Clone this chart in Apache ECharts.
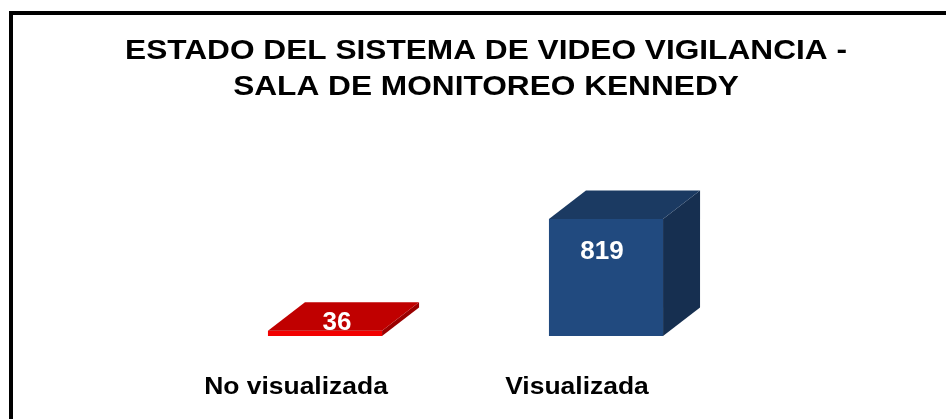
<!DOCTYPE html>
<html><head><meta charset="utf-8">
<script src="https://cdn.jsdelivr.net/npm/echarts@6/dist/echarts.min.js"></script>
<style>html,body{margin:0;padding:0;background:#fff}#c{width:946px;height:419px}</style>
</head><body><div id="c"></div>
<script>
var titleLines = ['ESTADO DEL SISTEMA DE VIDEO VIGILANCIA -', 'SALA DE MONITOREO KENNEDY'];
var categories = ['No visualizada', 'Visualizada'];
var values = [36, 819];
var frontColors = ['#f20000', '#214a7f'];
var topColors = ['#c00000', '#1b3a62'];
var sideColors = ['#9a0000', '#162f50'];

var chart = echarts.init(document.getElementById('c'));
var DX = 37, DY = 28.5;
function renderItem(params, api) {
  var i = api.value(0), v = api.value(1);
  var base = api.coord([i, 0]);
  var top = api.coord([i, v]);
  var w = api.size([1, 0])[0] * 0.406;
  var x0 = base[0] - w / 2, x1 = base[0] + w / 2, yb = base[1], yt = top[1];
  var children = [
    {type: 'polygon', shape: {points: [[x0, yb], [x1, yb], [x1, yt], [x0, yt]]}, style: {fill: frontColors[i]}},
    {type: 'polygon', shape: {points: [[x1, yb], [x1 + DX, yb - DY], [x1 + DX, yt - DY], [x1, yt]]}, style: {fill: sideColors[i]}},
    {type: 'polygon', shape: {points: [[x0, yt], [x1, yt], [x1 + DX, yt - DY], [x0 + DX, yt - DY]]}, style: {fill: topColors[i]}}
  ];
  var lx, ly;
  if (yb - yt > 40) { lx = base[0] - 4; ly = yt + 33; }
  else { lx = base[0] + 12; ly = yt - 8; }
  children.push({type: 'text', x: lx, y: ly, style: {text: String(v), fill: '#fff', font: 'bold 26px "Liberation Sans", Arial, sans-serif', align: 'center', verticalAlign: 'middle'}});
  children.push({type: 'text', x: base[0] - 29, y: yb + 52, scaleX: 1.15, style: {text: categories[i], fill: '#000', font: 'bold 23px "Liberation Sans", Arial, sans-serif', align: 'center', verticalAlign: 'middle'}});
  return {type: 'group', children: children};
}
chart.setOption({
  animation: false,
  grid: {left: 184.5, right: 199.5, top: 193.1, bottom: 83},
  xAxis: {type: 'category', data: categories, axisLine: {show: false}, axisTick: {show: false}, axisLabel: {show: false}},
  yAxis: {type: 'value', min: 0, max: 1000, show: false, splitLine: {show: false}},
  graphic: [
    {type: 'rect', shape: {x: 11, y: 13, width: 960, height: 430}, style: {fill: 'none', stroke: '#000', lineWidth: 4}},
    {type: 'text', x: 486, y: 51, scaleX: 1.13, style: {text: titleLines[0], fill: '#000', font: 'bold 28px "Liberation Sans", Arial, sans-serif', align: 'center', verticalAlign: 'middle'}},
    {type: 'text', x: 486, y: 87, scaleX: 1.13, style: {text: titleLines[1], fill: '#000', font: 'bold 28px "Liberation Sans", Arial, sans-serif', align: 'center', verticalAlign: 'middle'}}
  ],
  series: [{type: 'custom', renderItem: renderItem, data: values.map(function (v, i) { return [i, v]; }), encode: {x: 0, y: 1}}]
});
</script></body></html>
